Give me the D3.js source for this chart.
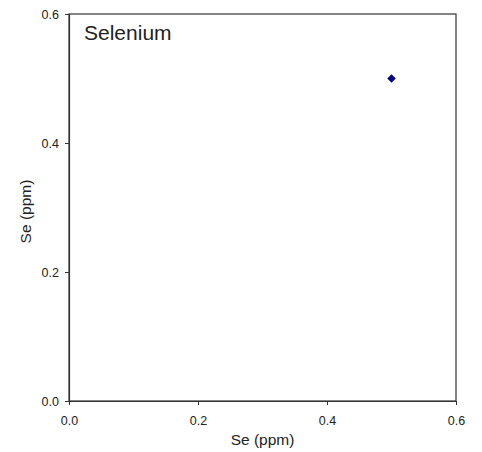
<!DOCTYPE html>
<html>
<head>
<meta charset="utf-8">
<script src="https://cdn.jsdelivr.net/npm/d3@7"></script>
<style>
  body { margin: 0; background: #fff; }
  text { font-family: "Liberation Sans", Arial, sans-serif; fill: #222; }
</style>
</head>
<body>
<svg id="chart" width="482" height="452"></svg>
<script>
// Selenium measurements (ppm), observed vs. reference
const seX = [0.5];
const seY = [0.5];
const xTicks = [0.0, 0.2, 0.4, 0.6];
const yTicks = [0.0, 0.2, 0.4, 0.6];
const chartTitle = "Selenium";
const xLabel = "Se (ppm)";
const yLabel = "Se (ppm)";

const svg = d3.select("#chart");
const m = { left: 69, top: 14, right: 456, bottom: 401 };

const x = d3.scaleLinear().domain([0, 0.6]).range([m.left, m.right]);
const y = d3.scaleLinear().domain([0, 0.6]).range([m.bottom, m.top]);

// plot frame
svg.append("rect")
  .attr("x", m.left).attr("y", m.top)
  .attr("width", m.right - m.left).attr("height", m.bottom - m.top)
  .attr("fill", "none").attr("stroke", "#333").attr("stroke-width", 1.2);

const xAxis = svg.append("g")
  .attr("transform", `translate(0,${m.bottom})`)
  .call(d3.axisBottom(x).tickValues(xTicks).tickFormat(d3.format(".1f"))
    .tickSizeInner(4).tickSizeOuter(0).tickPadding(11));
const yAxis = svg.append("g")
  .attr("transform", `translate(${m.left},0)`)
  .call(d3.axisLeft(y).tickValues(yTicks).tickFormat(d3.format(".1f"))
    .tickSizeInner(4).tickSizeOuter(0).tickPadding(6));

[xAxis, yAxis].forEach(g => {
  g.select(".domain").attr("stroke", "#333").attr("stroke-width", 1.2);
  g.selectAll(".tick line").attr("stroke", "#333");
  g.selectAll(".tick text").attr("font-size", 12.5).attr("fill", "#222")
    .attr("font-family", "Liberation Sans, Arial, sans-serif");
});

svg.append("text")
  .attr("x", (m.left + m.right) / 2).attr("y", 445)
  .attr("text-anchor", "middle").attr("font-size", 15.5)
  .text(xLabel);

svg.append("text")
  .attr("transform", `translate(31,${(m.top + m.bottom) / 2 + 4}) rotate(-90)`)
  .attr("text-anchor", "middle").attr("font-size", 15.5)
  .text(yLabel);

svg.append("text")
  .attr("x", 84).attr("y", 40)
  .attr("font-size", 21)
  .text(chartTitle);

// square diamond marker
const diamond = {
  draw(ctx, size) {
    const r = Math.sqrt(size / 2);
    ctx.moveTo(0, -r); ctx.lineTo(r, 0); ctx.lineTo(0, r); ctx.lineTo(-r, 0); ctx.closePath();
  }
};

svg.selectAll("path.pt")
  .data(seX.map((v, i) => [v, seY[i]]))
  .join("path")
  .attr("class", "pt")
  .attr("transform", d => `translate(${x(d[0])},${y(d[1])})`)
  .attr("d", d3.symbol(diamond, 36))
  .attr("fill", "#000080");
</script>
</body>
</html>
